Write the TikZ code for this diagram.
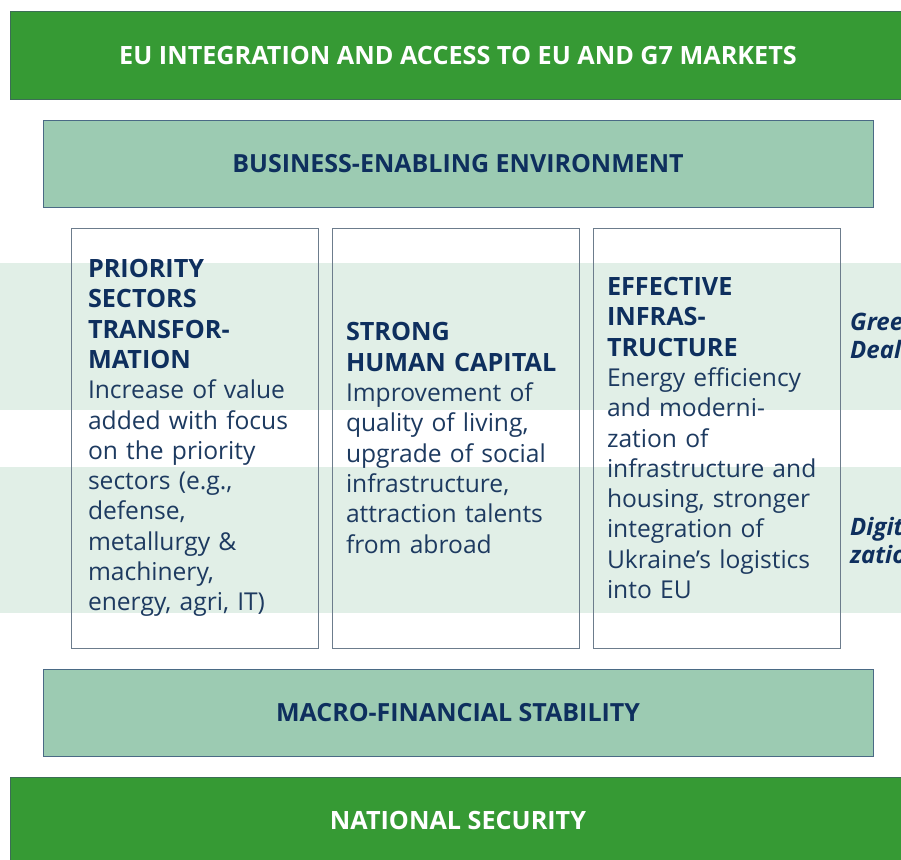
\documentclass[tikz,border=0pt]{standalone}
\usepackage{fontspec}
\setmainfont{Open Sans}
\definecolor{barGreen}{HTML}{369A34}
\definecolor{barEdge}{HTML}{3C6E55}
\definecolor{paleGreen}{HTML}{9CCBB2}
\definecolor{paleEdge}{HTML}{4A6A85}
\definecolor{bandTint}{HTML}{E1EFE7}
\definecolor{navy}{HTML}{0E2F5E}
\definecolor{bodyNavy}{HTML}{1D3A60}
\definecolor{colEdge}{HTML}{6C7C8C}
\tikzset{
  bar/.style={draw=barEdge, line width=1pt, fill=barGreen, text=white,
    minimum width=896pt, minimum height=87pt, inner sep=0pt,
    font=\fontsize{25.2}{28}\selectfont\bfseries},
  layer/.style={draw=paleEdge, line width=1pt, fill=paleGreen, text=navy,
    minimum width=830pt, minimum height=87pt, inner sep=0pt,
    font=\fontsize{25}{28}\selectfont\bfseries},
  pillar/.style={draw=colEdge, line width=1pt, minimum width=247pt,
    minimum height=420pt, inner ysep=0pt, align=left, text=bodyNavy,
    font=\fontsize{24.6}{30.3}\selectfont},
  side/.style={anchor=west, align=left, text=navy, inner sep=0pt,
    font=\fontsize{24}{28}\selectfont\bfseries\itshape},
}
\newcommand{\hd}[1]{{\fontsize{25.2}{30.3}\selectfont\bfseries\color{navy}#1}}
\begin{document}
\begin{tikzpicture}[x=1pt,y=-1pt]
\useasboundingbox (0,0) rectangle (901,859);
\clip (0,0) rectangle (901,859);
\fill[white] (0,0) rectangle (901,859);

% horizontal theme bands running behind the pillars
\fill[bandTint] (0,263) rectangle (901,410);
\fill[bandTint] (0,467) rectangle (901,613);

% outer foundation bars
\node[bar] (eu) at (458,55.5) {EU INTEGRATION AND ACCESS TO EU AND G7 MARKETS};
\node[bar] (sec) at (458,820.5) {NATIONAL SECURITY};

% enabling layers
\node[layer] (bee) at (458,163.5) {BUSINESS-ENABLING ENVIRONMENT};
\node[layer] (mfs) at (458,713) {MACRO-FINANCIAL STABILITY};

% three pillars
\node[pillar, text width=213pt, inner xsep=17pt] (p1) at (194.5,438)
  {\hd{PRIORITY}\\\hd{SECTORS}\\\hd{TRANSFOR-}\\\hd{MATION}\\
   Increase of value\\added with focus\\on the priority\\sectors (e.g.,\\
   defense,\\metallurgy \&\\machinery,\\energy, agri, IT)};
\node[pillar, text width=219pt, inner xsep=14pt] (p2) at (455.5,438)
  {\hd{STRONG}\\\hd{HUMAN CAPITAL}\\Improvement of\\quality of living,\\
   upgrade of social\\infrastructure,\\attraction talents\\from abroad};
\node[pillar, text width=219pt, inner xsep=14pt] (p3) at (716.5,438)
  {\hd{EFFECTIVE}\\\hd{INFRAS-}\\\hd{TRUCTURE}\\Energy efficiency\\
   and moderni-\\zation of\\infrastructure and\\housing, stronger\\
   integration of\\Ukraine’s logistics\\into EU};

% cross-cutting themes beside the pillars, running past the right edge
\node[side] (green) at (850,336) {Green\\Deal};
\node[side] (digi) at (850,540) {Digitali-\\zation};
\end{tikzpicture}
\end{document}
